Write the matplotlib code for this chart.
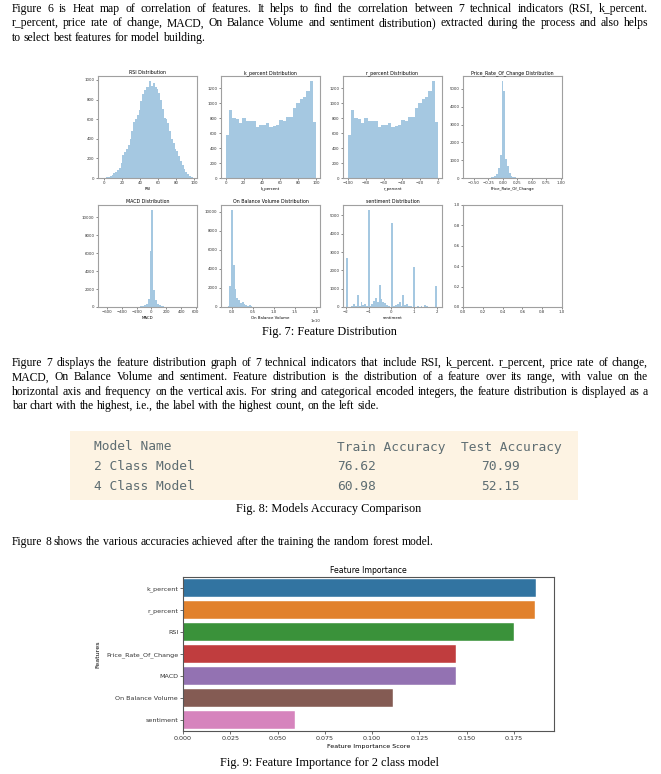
import matplotlib
matplotlib.use("Agg")
import matplotlib.pyplot as plt
from matplotlib.patches import Rectangle
import numpy as np

# ---------------- data ----------------
para1 = [
    "Figure 6 is Heat map of correlation of features. It helps to find the correlation between 7 technical indicators (RSI, k_percent.",
    "r_percent, price rate of change, MACD, On Balance Volume and sentiment distribution) extracted during the process and also helps",
    "to select best features for model building.",
]
para2 = [
    "Figure 7 displays the feature distribution graph of 7 technical indicators that include RSI, k_percent. r_percent, price rate of change,",
    "MACD, On Balance Volume and sentiment. Feature distribution is the distribution of a feature over its range, with value on the",
    "horizontal axis and frequency on the vertical axis. For string and categorical encoded integers, the feature distribution is displayed as a",
    "bar chart with the highest, i.e., the label with the highest count, on the left side.",
]
para3 = ["Figure 8 shows the various accuracies achieved after the training the random forest model."]
caption7 = "Fig. 7: Feature Distribution"
caption8 = "Fig. 8: Models Accuracy Comparison"
caption9 = "Fig. 9: Feature Importance for 2 class model"

# histograms: (bin start, bin width, counts)
rsi_start, rsi_width = 0.0, 2.0
rsi_counts = [5, 10, 15, 25, 35, 50, 60, 80, 100, 150, 230, 260, 300, 340, 400, 475, 570, 600, 640, 690,
              780, 860, 900, 930, 930, 990, 940, 970, 930, 910, 870, 800, 700, 610, 600, 560, 480, 400, 360, 300,
              280, 220, 170, 130, 90, 60, 40, 25, 12, 5]
kp_start, kp_width = 0.0, 100.0 / 27
kp_counts = [575, 910, 800, 790, 740, 805, 760, 765, 760, 680, 710, 715, 730, 680, 690, 705, 775, 760,
             815, 815, 940, 1010, 1060, 1080, 1160, 1300, 750]
rp_start, rp_width = -100.0, 100.0 / 27
rp_counts = [575, 910, 800, 790, 740, 805, 760, 765, 760, 680, 710, 715, 730, 680, 690, 705, 775, 760,
             815, 815, 940, 1010, 1060, 1080, 1160, 1300, 750]
proc_start, proc_width = -0.55, 0.031
proc_counts = [1, 0, 1, 2, 2, 3, 3, 4, 5, 8, 15, 30, 60, 120, 250, 550, 1300, 5450, 4900, 1050,
               650, 280, 130, 60, 30, 15, 8, 5, 3, 2, 1, 1, 1, 0, 1, 0, 0, 1, 0, 0,
               0, 1, 0, 0, 0, 0, 0, 0, 0, 1]
macd_start, macd_width = -650.0, 25.0
macd_counts = [5, 0, 3, 5, 3, 5, 8, 5, 10, 8,
               10, 12, 10, 15, 15, 20, 20, 25,
               40, 55, 80,
               120, 200, 370, 890, 6200, 10800, 1850, 740, 350, 200, 120, 80, 50, 35, 25, 20, 15, 10, 10,
               8, 5, 5, 3, 3, 2, 2, 1, 1, 1]
obv_start, obv_width = -0.105e10, 0.0425e10
obv_counts = [60, 2200, 10200, 4400, 1900, 900, 700, 450, 550, 300, 200, 120, 180, 60, 30,
              10, 5, 5, 3, 3, 2, 2, 0, 0, 0,
              0, 0, 0, 0, 0, 0, 0, 0, 0, 0, 0, 0, 0, 0, 0,
              5, 8, 10, 15, 20, 10, 15, 20, 10, 5]
sent_start, sent_width = -2.0, 0.08
sent_counts = [2700, 0, 0, 40, 150, 30, 650, 60, 280, 100, 180, 40, 5300, 80, 150, 330, 500, 250, 1200, 420,
               250, 200, 120, 40, 20, 4600, 60, 120, 180, 250, 80, 650, 100, 150, 50, 30, 20, 2200, 20, 30,
               20, 40, 20, 120, 30, 20, 10, 10, 20, 1150]

table_header = ["Model Name", "Train Accuracy", "Test Accuracy"]
table_models = ["2 Class Model", "4 Class Model"]
table_train = ["76.62", "60.98"]
table_test = ["70.99", "52.15"]

features = ["k_percent", "r_percent", "RSI", "Price_Rate_Of_Change", "MACD", "On Balance Volume", "sentiment"]
importance = [0.1868, 0.1862, 0.1751, 0.1441, 0.1441, 0.1108, 0.0594]
bar_colors = ["#3274a1", "#e1812c", "#3a923a", "#c03d3e", "#9372b2", "#845b53", "#d684bd"]

# ---------------- figure ----------------
W, H = 661, 774
fig = plt.figure(figsize=(W / 100, H / 100), dpi=100)
fig.patch.set_facecolor("white")
renderer = fig.canvas.get_renderer()
SERIF = "Liberation Serif"
PFS = 8.4


def fx(x):
    return x / W


def fy(y):
    return 1 - y / H


def add_ax(l, t, r, b):
    return fig.add_axes([fx(l), fy(b), (r - l) / W, (b - t) / H])


def measure(s, fs):
    t = fig.text(0, 0, s, fontsize=fs, family=SERIF)
    w = t.get_window_extent(renderer).width
    t.remove()
    return w


def put_line(s, y, justify, fs=PFS, x0=12, x1=648):
    words = s.split()
    ws = [measure(w, fs) for w in words]
    if justify and len(words) > 1:
        gap = (x1 - x0 - sum(ws)) / (len(words) - 1)
    else:
        gap = measure("a a", fs) - measure("aa", fs)
    x = x0
    for w, wd in zip(words, ws):
        fig.text(fx(x), fy(y), w, fontsize=fs, family=SERIF, va="baseline", ha="left", color="black")
        x += wd + gap


def put_para(lines, y0, dy=14.4):
    for i, s in enumerate(lines):
        put_line(s, y0 + i * dy, justify=(i < len(lines) - 1))


put_para(para1, 12)
put_para(para2, 366)
put_para(para3, 545)

for cap, y in [(caption7, 335), (caption8, 512), (caption9, 766)]:
    fig.text(fx(329), fy(y), cap, fontsize=8.8, family=SERIF, ha="center", va="baseline")

# ---------------- histogram grid ----------------
cols = [98, 221, 343, 463]
aw = 99
rows = [(76, 178), (205, 307)]
hist_color = "#1f77b4"


def style_small(ax):
    for sp in ax.spines.values():
        sp.set_color("#a0a0a0")
        sp.set_linewidth(0.8)
    ax.tick_params(labelsize=2.8, length=1.5, width=0.4, pad=1, colors="#333333")
    ax.xaxis.get_offset_text().set_fontsize(2.8)


def hist_panel(ax, start, width, counts, title, xlabel, xlim):
    edges = start + width * np.arange(len(counts))
    ax.bar(edges, counts, width=width, align="edge", color=hist_color, alpha=0.4, linewidth=0)
    ax.set_xlim(*xlim)
    ax.set_title(title, fontsize=3.4, pad=1.5)
    ax.set_xlabel(xlabel, fontsize=2.8, labelpad=1)
    style_small(ax)


panels = [
    (rsi_start, rsi_width, rsi_counts, "RSI Distribution", "RSI", (-7, 103)),
    (kp_start, kp_width, kp_counts, "k_percent Distribution", "k_percent", (-5, 104)),
    (rp_start, rp_width, rp_counts, "r_percent Distribution", "r_percent", (-105, 4)),
    (proc_start, proc_width, proc_counts, "Price_Rate_Of_Change Distribution", "Price_Rate_Of_Change", (-0.69, 1.02)),
    (macd_start, macd_width, macd_counts, "MACD Distribution", "MACD", (-720, 615)),
    (obv_start, obv_width, obv_counts, "On Balance Volume Distribution", "On Balance Volume", (-0.26e10, 2.1e10)),
    (sent_start, sent_width, sent_counts, "sentiment Distribution", "sentiment", (-2.13, 2.22)),
]
for i, p in enumerate(panels):
    r, c = divmod(i, 4)
    t, b = rows[r]
    ax = add_ax(cols[c], t, cols[c] + aw, b)
    hist_panel(ax, *p)

ax_empty = add_ax(cols[3], rows[1][0], cols[3] + aw, rows[1][1])
style_small(ax_empty)

# ---------------- table image ----------------
fig.patches.append(Rectangle((fx(70), fy(500)), (578 - 70) / W, (500 - 431) / H,
                             transform=fig.transFigure, facecolor="#fdf3e3", edgecolor="none", zorder=0))
MONO = "DejaVu Sans Mono"
TC = "#5e6d72"
TFS = 9.3
fig.text(fx(94), fy(450.5), table_header[0], family=MONO, fontsize=TFS, color=TC, va="baseline")
fig.text(fx(337), fy(450.5), table_header[1], family=MONO, fontsize=TFS, color=TC, va="baseline")
fig.text(fx(461), fy(450.5), table_header[2], family=MONO, fontsize=TFS, color=TC, va="baseline")
for i in range(len(table_models)):
    yb = 470 + i * 19.5
    fig.text(fx(94), fy(yb), table_models[i], family=MONO, fontsize=TFS, color=TC, va="baseline")
    fig.text(fx(337), fy(yb), table_train[i], family=MONO, fontsize=TFS, color=TC, va="baseline")
    fig.text(fx(481), fy(yb), table_test[i], family=MONO, fontsize=TFS, color=TC, va="baseline")

# ---------------- feature importance ----------------
axb = add_ax(183, 577, 554, 731)
ypos = np.arange(len(features))
axb.barh(ypos, importance, height=0.8, color=bar_colors, edgecolor="white", linewidth=0.3)
axb.set_yticks(ypos)
axb.set_yticklabels(features)
axb.set_ylim(len(features) - 0.5, -0.5)
axb.set_xlim(0, max(importance) * 1.05)
axb.set_title("Feature Importance", fontsize=5.6, pad=3)
axb.set_xlabel("Feature Importance Score", fontsize=4.6, labelpad=2)
axb.set_ylabel("Features", fontsize=4.6, labelpad=4)
axb.tick_params(labelsize=4.6, length=2, width=0.5, pad=1.5, colors="#333333")
for sp in axb.spines.values():
    sp.set_color("#555555")
    sp.set_linewidth(0.8)

fig.savefig("out.png", dpi=100, facecolor="white")
